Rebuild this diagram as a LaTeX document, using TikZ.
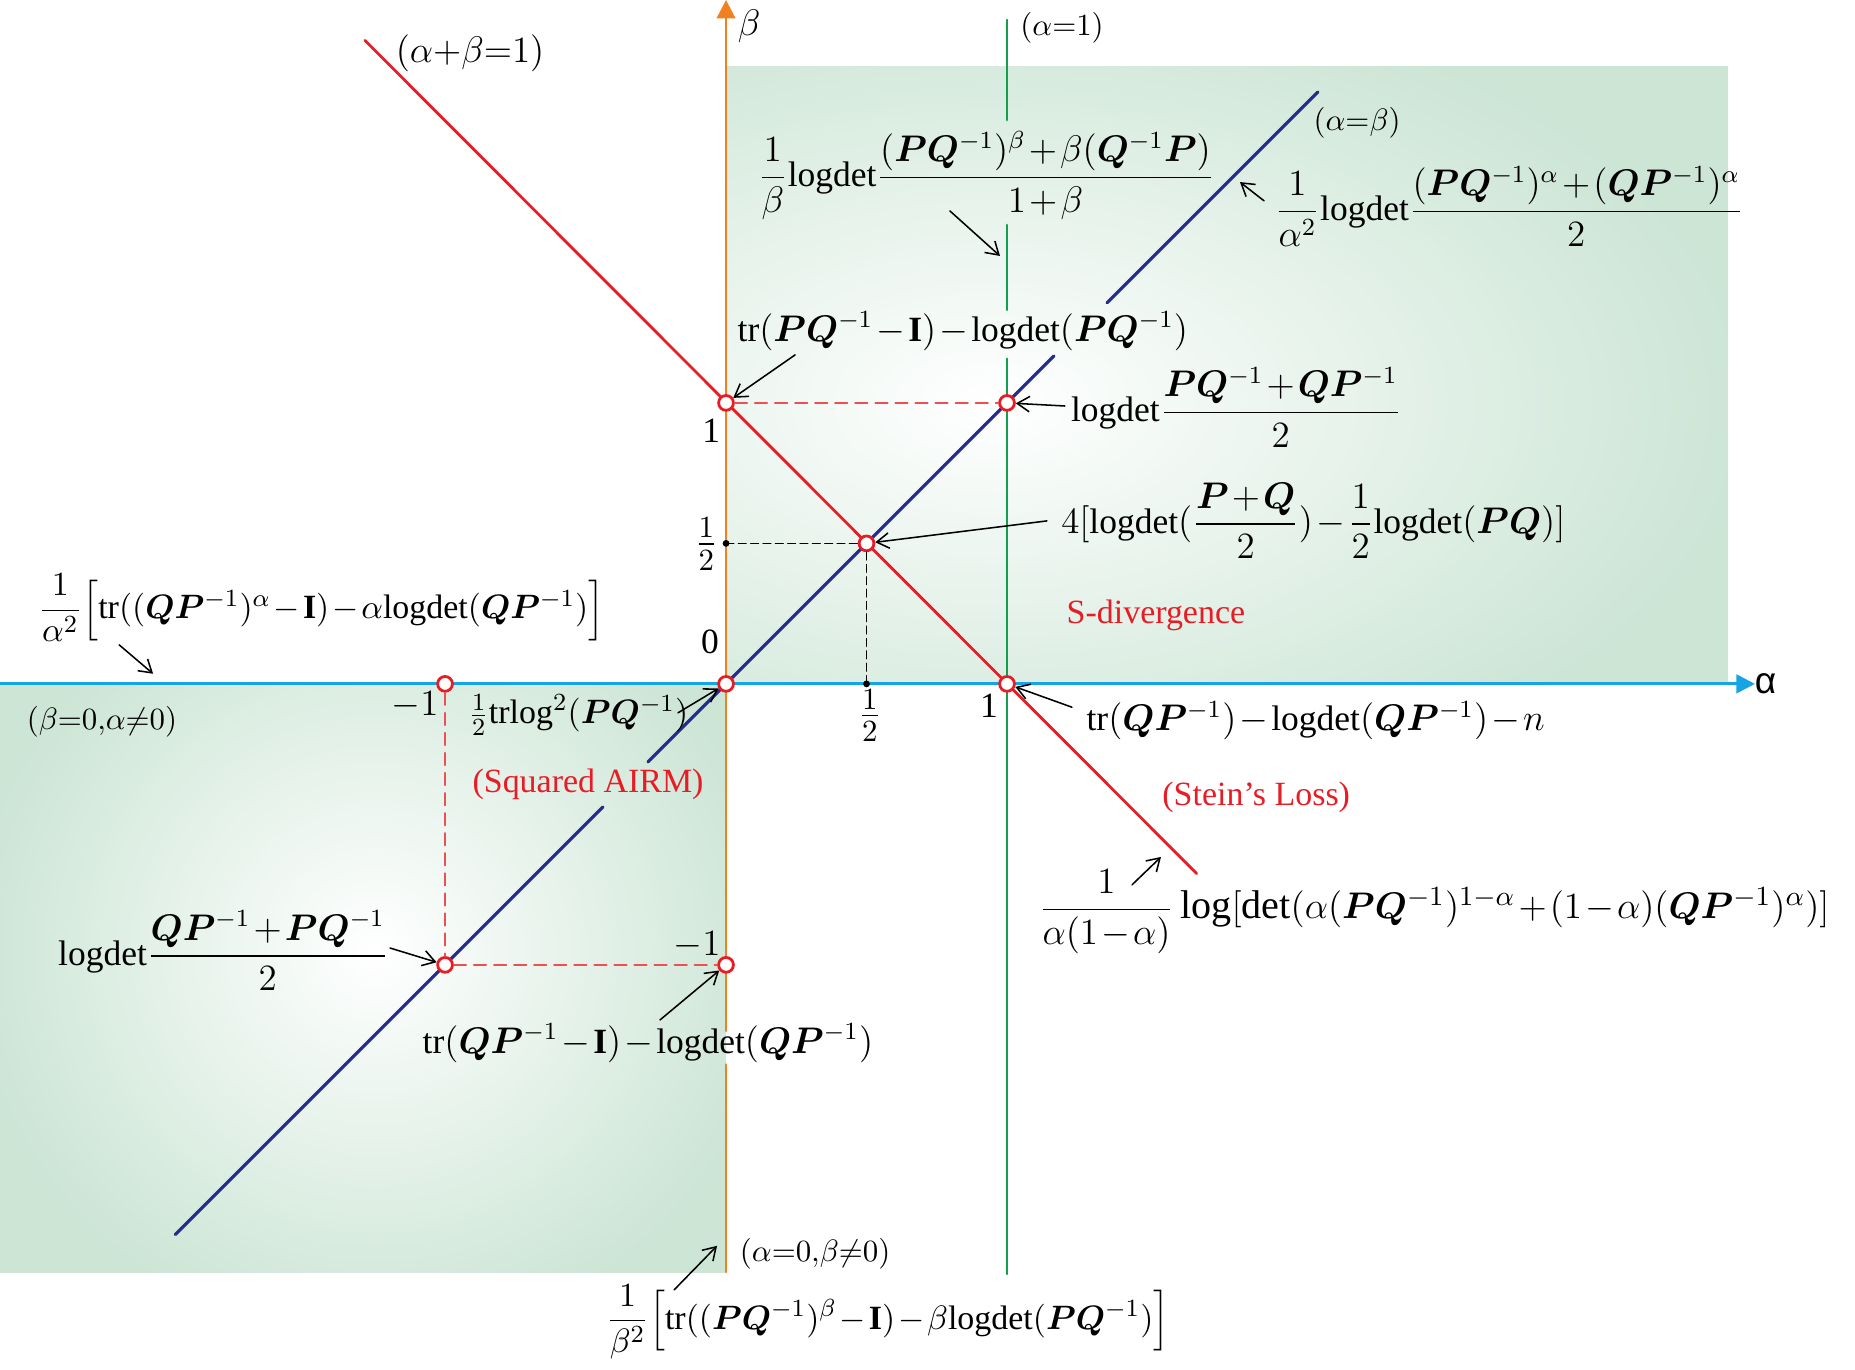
\documentclass[tikz,border=0pt]{standalone}
\usepackage{amsmath}
\usepackage{bm}
\usepackage{fontspec}
\setmainfont{Liberation Serif}
\setmathrm{Liberation Serif}
\newfontfamily\axisfont{Liberation Sans}
\usetikzlibrary{arrows.meta}

\definecolor{lineRed}{RGB}{232,28,36}
\definecolor{lineBlue}{RGB}{38,44,140}
\definecolor{lineGreen}{RGB}{18,160,78}
\definecolor{axisOrange}{RGB}{243,128,30}
\definecolor{axisCyan}{RGB}{22,165,228}
\definecolor{shadeGreen}{RGB}{204,229,213}
\definecolor{dashRed}{RGB}{236,80,80}

\newcommand{\bP}{\bm{P}}
\newcommand{\bQ}{\bm{Q}}
\newcommand{\bI}{\mathbf{I}}
\newcommand{\ldet}{\mathrm{logdet}}

\tikzset{
  pt/.style={circle, draw=lineRed, fill=white, line width=0.9pt,
             inner sep=0pt, minimum size=4.8pt},
  lbl/.style={font=\fontsize{11.5}{14}\selectfont, inner sep=1pt,
              execute at begin node={\medmuskip=1.5mu plus 1mu\thickmuskip=3mu plus 2mu}},
  tick/.style={font=\fontsize{14}{16}\selectfont, inner sep=1pt},
  tag/.style={font=\fontsize{10.2}{12}\selectfont, inner sep=1pt},
  note/.style={font=\fontsize{11}{13}\selectfont, text=lineRed, inner sep=1pt},
  ptr/.style={->, line width=0.5pt},
  axis/.style={line width=0.9pt, -{Triangle[length=6pt,width=6pt]}},
}

\begin{document}
\begin{tikzpicture}[x=3.2cm, y=3.2cm,
                    >={Straight Barb[length=4pt,width=5pt]},
                    line cap=round]
\useasboundingbox (-2.584,-2.441) rectangle (4.018,2.434);

%shaded regions
\begin{scope}
  \clip (0,0) rectangle (3.566,2.199);
  \shade [inner color=white, outer color=shadeGreen] (-1.75,-0.5) rectangle (3.65,2.5);
\end{scope}
\begin{scope}
  \clip (-2.584,-2.096) rectangle (0,0);
  \shade [inner color=white, outer color=shadeGreen] (-2.7,-2.35) rectangle (0.2,0.45);
\end{scope}

%axes
\draw [axisCyan, axis] (-2.584,0) -- (3.662,0);
\node [font=\axisfont\fontsize{12}{14}\selectfont, inner sep=1pt] (alab) at (3.70,0) {α};
\draw [axisOrange, line width=0.9pt] (0,-2.093) -- (0,-1.355);
\draw [axisOrange, axis] (0,-1.235) -- (0,2.434);
\node [lbl] (blab) at (0.082,2.342) {$\beta$};

%alpha=1
\draw [lineGreen, line width=0.9pt] (1,2.363) -- (1,2.007);
\draw [lineGreen, line width=0.9pt] (1,1.633) -- (1,1.331);
\draw [lineGreen, line width=0.9pt] (1,1.157) -- (1,-2.1);

%alpha+beta=1
\draw [lineRed, line width=0.9pt] (-1.285,2.29) -- (1.675,-0.675);

%alpha=beta
\draw [lineBlue, line width=1pt] (-1.96,-1.96) -- (-0.438,-0.438);
\draw [lineBlue, line width=1pt] (-0.278,-0.278) -- (1.167,1.167);
\draw [lineBlue, line width=1pt] (1.356,1.356) -- (2.107,2.107);

%special points
\foreach \p/\a/\b in {c01/0/1, c11/1/1, chh/0.5/0.5, c00/0/0,
                      c10/1/0, cm10/-1/0, cm1m1/-1/-1, c0m1/0/-1}
  \node [pt] (\p) at (\a,\b) {};

\draw [dashRed, line width=0.6pt, dash pattern=on 4pt off 2.5pt] (c01) -- (c11);
\draw [dashRed, line width=0.6pt, dash pattern=on 4pt off 2.5pt] (cm10) -- (cm1m1) -- (c0m1);

\coordinate (hy) at (0,0.5);
\coordinate (hx) at (0.5,0);
\draw [line width=0.5pt, dash pattern=on 2.5pt off 1.5pt] (hy) -- (chh) -- (hx);
\fill (hy) circle (1.1pt);
\fill (hx) circle (1.1pt);

%ticks
\node [lbl] (t1) at (-0.053,0.90) {1};
\node [tick] (th) at (-0.07,0.498) {$\frac{1}{2}$};
\node [lbl] (t0) at (-0.057,0.149) {0};
\node [lbl] (tm1) at (-1.107,-0.075) {$-1$};
\node [tick] (thx) at (0.512,-0.113) {$\frac{1}{2}$};
\node [lbl] (t1x) at (0.936,-0.079) {1};
\node [lbl] (tm1y) at (-0.103,-0.93) {$-1$};

%line tags
\node [lbl, font=\fontsize{12}{14}\selectfont] (tagsum) at (-0.911,2.245) {$(\alpha{+}\beta{=}1)$};
\node [tag] (taga1) at (1.196,2.334) {$(\alpha{=}1)$};
\node [tag] (tagab) at (2.246,1.996) {$(\alpha{=}\beta)$};
\node [tag] (tagb0) at (-2.221,-0.135) {$(\beta{=}0{,}\alpha{\neq}0)$};
\node [tag] (taga0) at (0.317,-2.028) {$(\alpha{=}0{,}\beta{\neq}0)$};

\node [note] (sdiv) at (1.53,0.242) {S-divergence};
\node [note] (airm) at (-0.491,-0.356) {(Squared AIRM)};
\node [note] (stein) at (1.887,-0.403) {(Stein’s Loss)};

%divergences
\node [lbl, anchor=west] (fbeta) at (0.10,1.81)
  {$\dfrac{1}{\beta}\ldet\dfrac{(\bP\bQ^{-1})^{\beta}+\beta(\bQ^{-1}\bP)}{1+\beta}$};
\node [lbl, anchor=west] (falpha) at (1.94,1.70)
  {$\dfrac{1}{\alpha^2}\ldet\dfrac{(\bP\bQ^{-1})^{\alpha}+(\bQ\bP^{-1})^{\alpha}}{2}$};
\node [lbl] (ftrPQ) at (0.843,1.256)
  {$\mathrm{tr}(\bP\bQ^{-1}-\bI)-\ldet(\bP\bQ^{-1})$};
\node [lbl, anchor=west] (fmid) at (1.215,0.985)
  {$\ldet\dfrac{\bP\bQ^{-1}+\bQ\bP^{-1}}{2}$};
\node [lbl, anchor=west] (fS) at (1.18,0.58)
  {$4[\ldet(\dfrac{\bP+\bQ}{2})-\dfrac{1}{2}\ldet(\bP\bQ)]$};
\node [lbl, font=\fontsize{11}{13}\selectfont, anchor=west] (falphaL) at (-2.46,0.27)
  {$\dfrac{1}{\alpha^2}\Bigl[\mathrm{tr}((\bQ\bP^{-1})^{\alpha}-\bI)-\alpha\ldet(\bQ\bP^{-1})\Bigr]$};
\node [lbl, font=\fontsize{11}{13}\selectfont, anchor=west] (fhalf) at (-0.93,-0.11)
  {$\tfrac{1}{2}\mathrm{trlog}^2(\bP\bQ^{-1})$};
\node [lbl, anchor=west] (fStein) at (1.27,-0.13)
  {$\mathrm{tr}(\bQ\bP^{-1})-\ldet(\bQ\bP^{-1})-n$};
\node [lbl, font=\fontsize{13}{15}\selectfont, anchor=west] (fbig) at (1.10,-0.81)
  {$\dfrac{1}{\alpha(1-\alpha)}\log[\det(\alpha(\bP\bQ^{-1})^{1-\alpha}+(1-\alpha)(\bQ\bP^{-1})^{\alpha})]$};
\node [lbl, anchor=west] (fQP) at (-2.39,-0.95)
  {$\ldet\dfrac{\bQ\bP^{-1}+\bP\bQ^{-1}}{2}$};
\node [lbl] (ftrQP) at (-0.278,-1.278)
  {$\mathrm{tr}(\bQ\bP^{-1}-\bI)-\ldet(\bQ\bP^{-1})$};
\node [lbl, font=\fontsize{11}{13}\selectfont, anchor=west] (fbetaL) at (-0.44,-2.27)
  {$\dfrac{1}{\beta^2}\Bigl[\mathrm{tr}((\bP\bQ^{-1})^{\beta}-\bI)-\beta\ldet(\bP\bQ^{-1})\Bigr]$};

%pointers
\coordinate (a1) at (0.797,1.683);   \coordinate (a1e) at (0.975,1.523);
\coordinate (a2) at (1.915,1.719);   \coordinate (a2e) at (1.829,1.786);
\coordinate (a3) at (0.246,1.171);
\coordinate (a4) at (1.206,0.989);
\coordinate (a5) at (1.142,0.580);
\coordinate (a6) at (-2.16,0.139);   \coordinate (a6e) at (-2.039,0.036);
\coordinate (a7) at (-0.171,-0.103);
\coordinate (a8) at (1.231,-0.083);
\coordinate (a9) at (1.445,-0.715);  \coordinate (a9e) at (1.548,-0.616);
\coordinate (a10) at (-1.196,-0.94);
\coordinate (a11) at (-0.235,-1.196);
\coordinate (a12) at (-0.185,-2.157); \coordinate (a12e) at (-0.032,-2.0);

\draw [ptr] (a1) -- (a1e);
\draw [ptr] (a2) -- (a2e);
\draw [ptr] (a3) -- (c01);
\draw [ptr] (a4) -- (c11);
\draw [ptr] (a5) -- (chh);
\draw [ptr] (a6) -- (a6e);
\draw [ptr] (a7) -- (c00);
\draw [ptr] (a8) -- (c10);
\draw [ptr] (a9) -- (a9e);
\draw [ptr] (a10) -- (cm1m1);
\draw [ptr] (a11) -- (c0m1);
\draw [ptr] (a12) -- (a12e);
\end{tikzpicture}
\end{document}
